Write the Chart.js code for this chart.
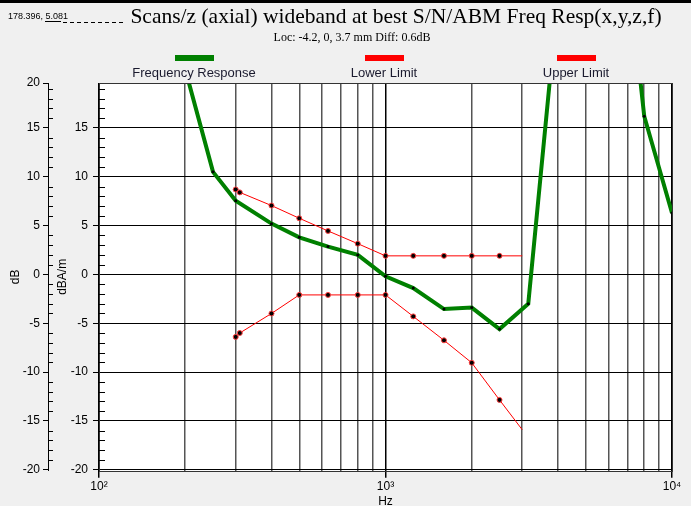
<!DOCTYPE html>
<html>
<head>
<meta charset="utf-8">
<script src="https://cdn.jsdelivr.net/npm/chart.js@4.4.1/dist/chart.umd.min.js"></script>
<style>
  body { margin: 0; background: #f0f0f0; }
  #wrap { width: 691px; height: 506px; }
</style>
</head>
<body>
<div id="wrap"><canvas id="respChart" width="691" height="506"></canvas></div>
<script>
// frequency response (dBA/m) per third-octave frequency
const respFreq = [200, 250, 300, 400, 500, 630, 800, 1000, 1250, 1600, 2000, 2500, 3150, 4000, 5000, 6300, 8000, 10000];
const respDb = [21, 10.5, 7.55, 5.2, 3.8, 2.85, 2.0, -0.2, -1.4, -3.55, -3.4, -5.6, -3.0, 28.5, 50, 44, 16.2, 6.3];

// limit lines
const limitFreq = [300, 310, 400, 500, 630, 800, 1000, 1250, 1600, 2000, 2500, 3000];
const upperDb = [8.7, 8.4, 7.05, 5.75, 4.45, 3.15, 1.9, 1.9, 1.9, 1.9, 1.9, 1.9];
const lowerDb = [-6.4, -6.0, -4.0, -2.1, -2.1, -2.1, -2.1, -4.3, -6.75, -9.05, -12.85, -15.9];

const xTicks = [100, 200, 300, 400, 500, 600, 700, 800, 900, 1000, 2000, 3000, 4000, 5000, 6000, 7000, 8000, 9000, 10000];
const yTicks = [-20, -15, -10, -5, 0, 5, 10, 15];
const decadeLabels = { 100: '10²', 1000: '10³', 10000: '10⁴' };

const Y_MIN = -20.1;
const Y_MAX = 19.6;

function toPoints(xs, ys) {
    return xs.map((x, i) => ({ x: x, y: ys[i] }));
}

const decor = {
    id: 'decor',
    beforeDraw(chart) {
        const ctx = chart.ctx;
        const a = chart.chartArea;
        ctx.save();
        ctx.fillStyle = '#f0f0f0';
        ctx.fillRect(0, 0, chart.width, chart.height);
        ctx.fillStyle = '#ffffff';
        ctx.fillRect(a.left, a.top, a.right - a.left, a.bottom - a.top);
        ctx.fillStyle = '#000';
        ctx.fillRect(0, 0, chart.width, 3);
        ctx.restore();
    },
    afterDraw(chart) {
        const ctx = chart.ctx;
        const a = chart.chartArea;
        const y = chart.scales.y;
        const y2 = chart.scales.y2;
        ctx.save();

        // plot frame
        ctx.strokeStyle = '#333';
        ctx.lineWidth = 1;
        ctx.strokeRect(Math.round(a.left) + 0.5, Math.round(a.top) + 0.5,
            Math.round(a.right - a.left), Math.round(a.bottom - a.top));

        // minor ticks on both y axes
        ctx.strokeStyle = '#000';
        ctx.beginPath();
        for (let v = -19; v <= 19; v++) {
            if (v % 5 === 0) continue;
            const py = Math.round(y.getPixelForValue(v)) + 0.5;
            ctx.moveTo(y2.right, py); ctx.lineTo(y2.right + 5, py);
            ctx.moveTo(y.right, py); ctx.lineTo(y.right + 6, py);
        }
        ctx.stroke();

        // titles
        ctx.fillStyle = '#000';
        ctx.textBaseline = 'alphabetic';
        ctx.font = '9px "Liberation Sans", Arial, sans-serif';
        ctx.textAlign = 'left';
        ctx.fillText('178.396, 5.081', 8, 19);
        ctx.lineWidth = 1;
        ctx.beginPath();
        ctx.moveTo(45, 21.5); ctx.lineTo(61, 21.5);
        ctx.stroke();
        ctx.setLineDash([4, 3]);
        ctx.beginPath();
        ctx.moveTo(63, 22.5); ctx.lineTo(126, 22.5);
        ctx.stroke();
        ctx.setLineDash([]);

        ctx.font = '21.5px "Liberation Serif", "Times New Roman", serif';
        ctx.textAlign = 'center';
        ctx.fillText('Scans/z (axial) wideband at best S/N/ABM Freq Resp(x,y,z,f)', 396, 23);
        ctx.font = '12px "Liberation Serif", "Times New Roman", serif';
        ctx.fillText('Loc: -4.2, 0, 3.7 mm Diff: 0.6dB', 352, 41);

        // legend
        const items = [
            { label: 'Frequency Response', color: '#008000', cx: 194 },
            { label: 'Lower Limit', color: '#ff0000', cx: 384 },
            { label: 'Upper Limit', color: '#ff0000', cx: 576 }
        ];
        ctx.font = '13px "Liberation Sans", Arial, sans-serif';
        items.forEach(it => {
            ctx.fillStyle = it.color;
            ctx.fillRect(it.cx - 19, 55, 39, 6);
            ctx.fillStyle = '#1a1a2e';
            ctx.fillText(it.label, it.cx, 77);
        });
        ctx.restore();
    }
};

function createRespChart() {
    const ctx = document.getElementById('respChart').getContext('2d');
    Chart.defaults.font.family = '"Liberation Sans", Arial, sans-serif';
    Chart.defaults.font.size = 12;
    Chart.defaults.color = '#000';

    new Chart(ctx, {
        type: 'line',
        data: {
            datasets: [{
                label: 'Frequency Response',
                data: toPoints(respFreq, respDb),
                borderColor: '#008000',
                borderWidth: 4,
                pointRadius: 1.5,
                pointBackgroundColor: '#000',
                pointBorderWidth: 0,
                clip: 0
            }, {
                label: 'Lower Limit',
                data: toPoints(limitFreq, lowerDb),
                borderColor: '#ff0000',
                borderWidth: 1,
                pointRadius: c => c.dataIndex === limitFreq.length - 1 ? 0 : 2.5,
                pointBackgroundColor: '#000',
                pointBorderColor: '#ff4040',
                pointBorderWidth: 1,
                clip: 0
            }, {
                label: 'Upper Limit',
                data: toPoints(limitFreq, upperDb),
                borderColor: '#ff0000',
                borderWidth: 1,
                pointRadius: c => c.dataIndex === limitFreq.length - 1 ? 0 : 2.5,
                pointBackgroundColor: '#000',
                pointBorderColor: '#ff4040',
                pointBorderWidth: 1,
                clip: 0
            }]
        },
        options: {
            responsive: false,
            animation: false,
            layout: { padding: { top: 83, right: 19, left: 0, bottom: 0 } },
            plugins: {
                legend: { display: false },
                tooltip: { enabled: false }
            },
            scales: {
                x: {
                    type: 'logarithmic',
                    min: 100,
                    max: 10000,
                    afterBuildTicks: s => { s.ticks = xTicks.map(v => ({ value: v })); },
                    afterFit: s => { s.height = 35.3; },
                    grid: {
                        color: c => decadeLabels[c.tick.value] ? '#000' : '#555',
                        lineWidth: 1.5,
                        tickLength: 7,
                        tickColor: c => decadeLabels[c.tick.value] ? '#000' : 'rgba(0,0,0,0)'
                    },
                    border: { display: false },
                    ticks: {
                        autoSkip: false,
                        maxRotation: 0,
                        padding: 2,
                        callback: v => decadeLabels[v] || ''
                    },
                    title: { display: true, text: 'Hz', padding: { top: 0, bottom: -3 } }
                },
                y: {
                    position: 'left',
                    weight: 0,
                    min: Y_MIN,
                    max: Y_MAX,
                    afterBuildTicks: s => { s.ticks = yTicks.map(v => ({ value: v })); },
                    afterFit: s => { s.width = 51; },
                    grid: { color: '#000', tickLength: 6 },
                    border: { color: '#000' },
                    ticks: { padding: 5 },
                    title: { display: true, text: 'dBA/m', padding: { top: 7, bottom: 0 } }
                },
                y2: {
                    position: 'left',
                    weight: 1,
                    min: Y_MIN,
                    max: Y_MAX,
                    afterBuildTicks: s => { s.ticks = yTicks.concat([Y_MAX]).map(v => ({ value: v })); },
                    afterFit: s => { s.width = 48; },
                    grid: { drawOnChartArea: false, color: '#000', tickLength: 5 },
                    border: { color: '#000' },
                    ticks: { padding: 3, callback: v => v > 19 ? '20' : v },
                    title: { display: true, text: 'dB', padding: { top: 8, bottom: 0 } }
                }
            }
        },
        plugins: [decor]
    });
}

document.addEventListener('DOMContentLoaded', createRespChart);
</script>
</body>
</html>
